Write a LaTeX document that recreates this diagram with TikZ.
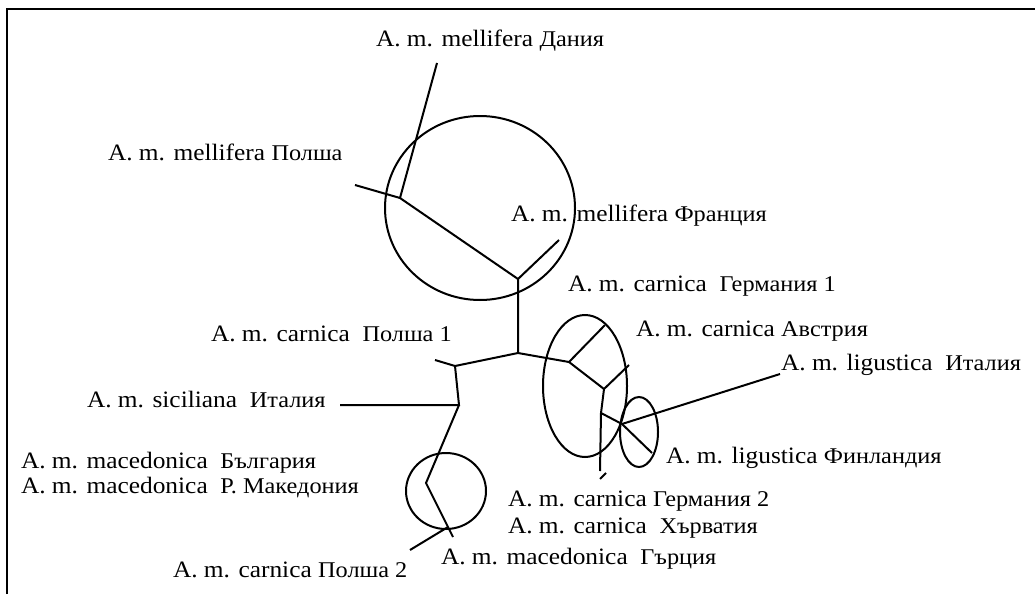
\documentclass[tikz,border=0pt]{standalone}
\usepackage{fontspec}
\setmainfont{Liberation Serif}[FakeStretch=1.08]
\usetikzlibrary{positioning}
\newcommand{\loc}[1]{{\fontsize{22.5}{24}\selectfont #1}}

\begin{document}
\begin{tikzpicture}[x=1pt,y=-1pt,line width=2pt,
  lbl/.style={anchor=base west,inner sep=0pt,font=\fontsize{23.5}{25}\selectfont}]
  \useasboundingbox (0,0) rectangle (1035,594);
  \draw[line width=1.5pt] (7,594) -- (7,9) -- (1035,9);
  % tree points
  \coordinate (dk) at (437,63);
  \coordinate (pl) at (355,185);
  \coordinate (a) at (400,198);
  \coordinate (b) at (518,279);
  \coordinate (fr) at (559,240);
  \coordinate (c) at (518,353);
  \coordinate (d) at (455,366);
  \coordinate (pl1) at (435,360);
  \coordinate (e) at (459,405);
  \coordinate (sic) at (340,405);
  \coordinate (f) at (426,483);
  \coordinate (g) at (448,527);
  \coordinate (mk) at (453,537);
  \coordinate (pl2) at (410,550);
  \coordinate (h) at (569,362);
  \coordinate (at) at (605,325);
  \coordinate (i) at (604,389);
  \coordinate (de1) at (629,365);
  \coordinate (j) at (601,413);
  \coordinate (de2) at (600,471);
  \coordinate (hub) at (622,424);
  \coordinate (it) at (780,374);
  \coordinate (fi) at (652,453);
  % branches
  \draw (dk) -- (a); \draw (pl) -- (a) -- (b) -- (fr);
  \draw (b) -- (c) -- (d) -- (pl1);
  \draw (d) -- (e) -- (sic);
  \draw (e) -- (f) -- (g) -- (mk); \draw (g) -- (pl2);
  \draw (c) -- (h) -- (at); \draw (h) -- (i) -- (de1);
  \draw (i) -- (j) -- (hub); \draw (j) -- (de2);
  \draw ([yshift=-8pt]de2) -- ([xshift=6pt,yshift=-2pt]de2);
  \draw (hub) -- (it); \draw (hub) -- (fi);
  % groups
  \draw (480,208) ellipse [x radius=95,y radius=92];
  \draw (446,491) ellipse [x radius=40,y radius=38];
  \draw (585,386) ellipse [x radius=42,y radius=71];
  \draw (639,432) ellipse [x radius=19,y radius=35];
  % labels
  \node[lbl] (tDk) at (375,46) {A. m. mellifera \loc{Дания}};
  \node[lbl] (tPl) at (107,160) {A. m. mellifera \loc{Полша}};
  \node[lbl] (tFr) at (510,221) {A. m. mellifera \loc{Франция}};
  \node[lbl] (tDe1) at (567,291) {A. m. carnica \ \loc{Германия 1}};
  \node[lbl] (tAt) at (635,336) {A. m. carnica \loc{Австрия}};
  \node[lbl] (tPl1) at (210,341) {A. m. carnica \ \loc{Полша 1}};
  \node[lbl] (tIt) at (780,370) {A. m. ligustica \ \loc{Италия}};
  \node[lbl] (tSic) at (86,407) {A. m. siciliana \ \loc{Италия}};
  \node[lbl] (tFi) at (665,463) {A. m. ligustica \loc{Финландия}};
  \node[lbl] (tBg) at (20,468) {A. m. macedonica \ \loc{България}};
  \node[lbl] (tMk) at (20,493) {A. m. macedonica \ \loc{Р. Македония}};
  \node[lbl] (tDe2) at (507,506) {A. m. carnica \loc{Германия 2}};
  \node[lbl] (tHr) at (507,533) {A. m. carnica \ \loc{Хърватия}};
  \node[lbl] (tGr) at (440,564) {A. m. macedonica \ \loc{Гърция}};
  \node[lbl] (tPl2) at (172,577) {A. m. carnica \loc{Полша 2}};
\end{tikzpicture}
\end{document}
